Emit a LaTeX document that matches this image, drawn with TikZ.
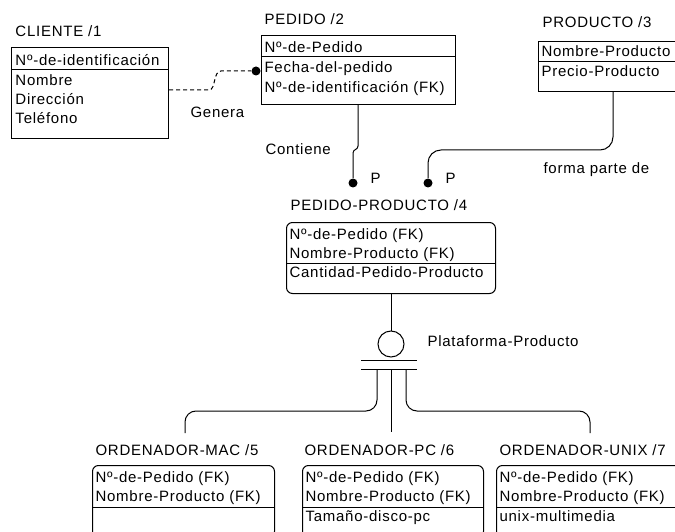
\documentclass[tikz,border=0pt]{standalone}
\usepackage{fontspec}
\setmainfont{Liberation Sans}[LetterSpace=5]
\begin{document}
\begin{tikzpicture}[x=1pt,y=-1pt,line width=1pt,
  every node/.style={font=\fontsize{15pt}{18pt}\selectfont},
  txt/.style={inner sep=0pt,anchor=base west},
  ebox/.style={draw,inner sep=0pt,anchor=north west},
  rbox/.style={ebox,rounded corners=6pt},
  dot/.style={circle,fill=black,inner sep=0pt,minimum size=9pt},
  link/.style={draw,line width=1pt}]
\useasboundingbox[fill=white] (0,0) rectangle (675,532);

% CLIENTE
\node[txt] (t1) at (15,37) {CLIENTE /1};
\node[ebox,minimum width=157pt,minimum height=91pt] (cliente) at (11,47) {};
\draw (cliente.west |- 0,70) -- (cliente.east |- 0,70);
\node[txt] (c1) at (15,66) {Nº-de-identificación};
\node[txt] (c2) at (15,86) {Nombre};
\node[txt] (c3) at (15,105) {Dirección};
\node[txt] (c4) at (15,124) {Teléfono};

% PEDIDO
\node[txt] (t2) at (264,25) {PEDIDO /2};
\node[ebox,minimum width=194pt,minimum height=69pt] (pedido) at (261,35) {};
\draw (pedido.west |- 0,57) -- (pedido.east |- 0,57);
\node[txt] (p1) at (264,53) {Nº-de-Pedido};
\node[txt] (p2) at (264,73) {Fecha-del-pedido};
\node[txt] (p3) at (264,93) {Nº-de-identificación (FK)};

% PRODUCTO
\node[txt] (t3) at (542,28) {PRODUCTO /3};
\node[ebox,minimum width=140pt,minimum height=50pt] (producto) at (538,41) {};
\draw (producto.west |- 0,62) -- (producto.east |- 0,62);
\node[txt] (r1) at (541,57) {Nombre-Producto};
\node[txt] (r2) at (541,77) {Precio-Producto};

% PEDIDO-PRODUCTO
\node[txt] (t4) at (290,211) {PEDIDO-PRODUCTO /4};
\node[rbox,minimum width=209pt,minimum height=71pt] (pp) at (286,222) {};
\draw (pp.west |- 0,263) -- (pp.east |- 0,263);
\node[txt] (pp1) at (289,240) {Nº-de-Pedido (FK)};
\node[txt] (pp2) at (289,258) {Nombre-Producto (FK)};
\node[txt] (pp3) at (289,277) {Cantidad-Pedido-Producto};

% subtypes
\node[txt] (t5) at (95,455) {ORDENADOR-MAC /5};
\node[rbox,minimum width=182pt,minimum height=72pt] (mac) at (92,465) {};
\draw (mac.west |- 0,507) -- (mac.east |- 0,507);
\node[txt] (m1) at (95,482) {Nº-de-Pedido (FK)};
\node[txt] (m2) at (95,501) {Nombre-Producto (FK)};

\node[txt] (t6) at (304,455) {ORDENADOR-PC /6};
\node[rbox,minimum width=181pt,minimum height=72pt] (pc) at (302,465) {};
\draw (pc.west |- 0,507) -- (pc.east |- 0,507);
\node[txt] (pc1) at (305,482) {Nº-de-Pedido (FK)};
\node[txt] (pc2) at (305,501) {Nombre-Producto (FK)};
\node[txt] (pc3) at (305,521) {Tamaño-disco-pc};

\node[txt] (t7) at (499,455) {ORDENADOR-UNIX /7};
\node[rbox,minimum width=184pt,minimum height=72pt] (unix) at (496,465) {};
\draw (unix.west |- 0,507) -- (unix.east |- 0,507);
\node[txt] (u1) at (499,482) {Nº-de-Pedido (FK)};
\node[txt] (u2) at (499,501) {Nombre-Producto (FK)};
\node[txt] (u3) at (499,521) {unix-multimedia};

% relationship Genera (non-identifying, dashed)
\node[dot] (gdot) at (256,71) {};
\draw[dash pattern=on 4pt off 3pt] (cliente.east |- 0,90) -- (209,90)
  .. controls (216,90) and (213,71) .. (221,71) -- (gdot.west);
\draw (gdot.east) -- (pedido.west |- gdot);
\node[txt] (lg) at (190,118) {Genera};

% relationship Contiene
\node[dot] (cdot) at (353,183) {};
\draw (pedido.south -| 358,0) -- (358,146)
  .. controls (358,150) and (353,149) .. (353,153) -- (cdot.north);
\node[txt] (lc) at (265,155) {Contiene};
\node[txt] (lp1) at (370,183) {P};

% relationship forma parte de
\node[dot] (fdot) at (428,183) {};
\draw[rounded corners=13pt] (producto.south -| 613,0) |- (428,150) -- (fdot.north);
\node[txt] (lf) at (543,174) {forma parte de};
\node[txt] (lp2) at (445,183) {P};

% subtype cluster Plataforma-Producto
\node[draw,circle,minimum size=26pt,inner sep=0pt] (circ) at (391,344) {};
\draw (pp.south -| circ) -- (circ.north);
\coordinate (b1l) at (361,360); \coordinate (b1r) at (417,360);
\coordinate (b2l) at (361,369); \coordinate (b2r) at (417,369);
\draw (b1l) -- (b1r);
\draw (b2l) -- (b2r);
\node[txt] (lpp) at (427,346) {Plataforma-Producto};

\coordinate (emac) at (185,433);
\coordinate (epc) at (391,432);
\coordinate (eunix) at (590,433);
\draw[rounded corners=11pt] (377,369) |- (185,411) -- (emac);
\draw (391,369) -- (epc);
\draw[rounded corners=11pt] (406,369) |- (590,411) -- (eunix);
\end{tikzpicture}
\end{document}
